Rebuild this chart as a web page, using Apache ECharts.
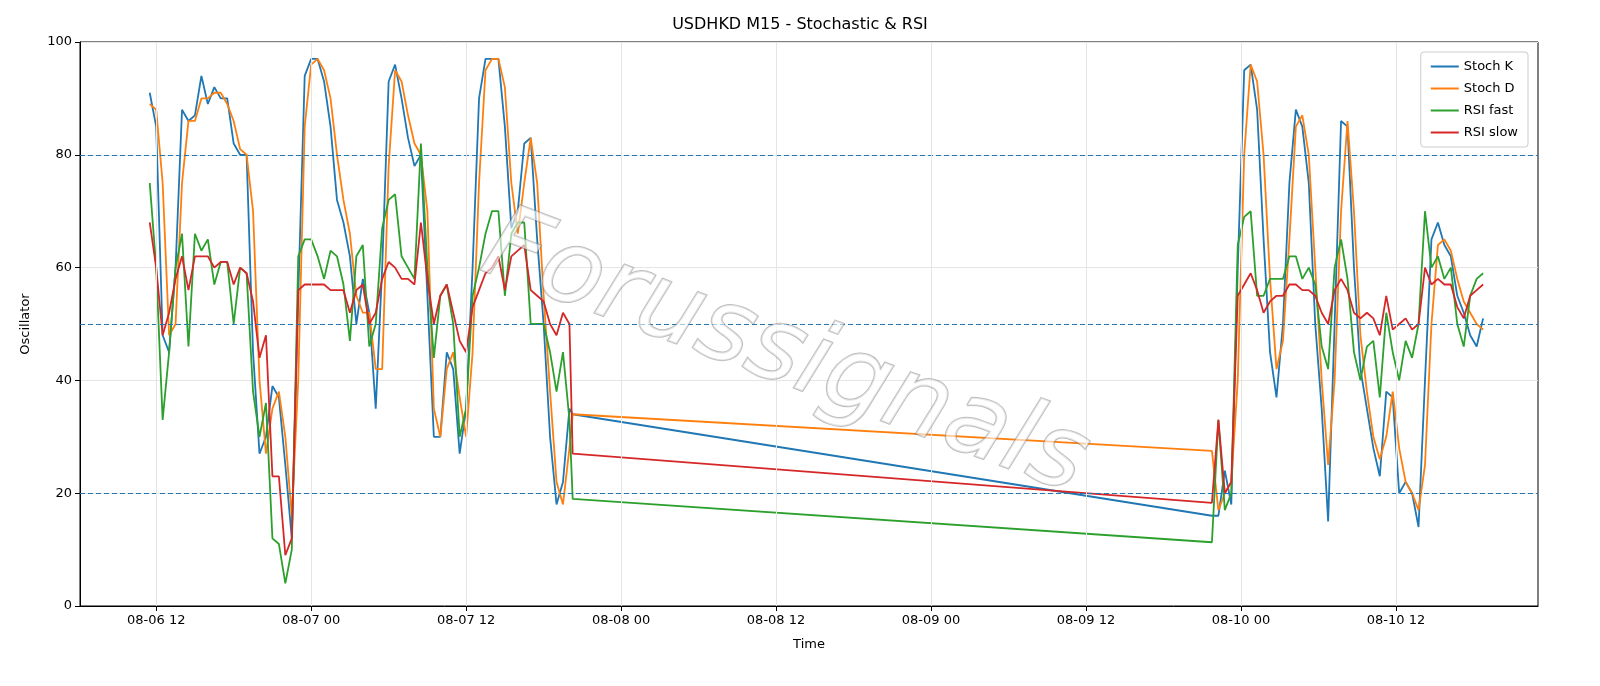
<!DOCTYPE html>
<html lang="en" style="height: 100%">
<head>
<meta charset="UTF-8">
<title>USDHKD M15</title>
<script src="https://cdn.jsdelivr.net/npm/echarts@6/dist/echarts.min.js"></script>
</head>
<body style="height: 100%; margin: 0; background: #fff; overflow: hidden">
<div id="container" style="width: 100%; height: 100%"></div>
<script>
// segment 1 starts 08-06 11:30, 30-min steps; final point 20:45
var seg1Start = '2024-08-06T11:30:00';
var seg2Start = '2024-08-09T21:45:00';
var tickLabels = ['2024-08-06T12:00:00', '2024-08-07T00:00:00', '2024-08-07T12:00:00', '2024-08-08T00:00:00',
    '2024-08-08T12:00:00', '2024-08-09T00:00:00', '2024-08-09T12:00:00', '2024-08-10T00:00:00', '2024-08-10T12:00:00'];
var k1 = [91,85,48,45,60,88,86,87,94,89,92,90,90,82,80,80,45,27,30,39,37,25,12,55,94,97,97,93,85,72,68,62,50,58,52,35,60,93,96,90,83,78,80,55,30,30,45,42,27,35,60,90,97,97,97,85,67,70,82,83,65,50,30,18,22,35,34];
var d1 = [89,88,75,48,50,75,86,86,90,90,91,91,89,86,81,80,70,40,27,35,38,30,16,40,85,96,97,95,90,80,72,66,55,52,52,42,42,78,95,93,87,82,80,70,35,30,42,45,37,30,45,75,95,97,97,92,75,66,75,83,75,55,38,22,18,28,34];
var f1 = [75,60,33,45,60,66,46,66,63,65,57,61,61,50,60,59,38,30,36,12,11,4,10,62,65,65,62,58,63,62,57,47,62,64,46,50,67,72,73,62,60,58,82,60,44,55,57,50,30,35,55,60,66,70,70,55,66,68,68,50,50,50,45,38,45,33,19];
var s1 = [68,60,48,52,58,62,56,62,62,62,60,61,61,57,60,59,54,44,48,23,23,9,12,56,57,57,57,57,56,56,56,52,56,57,50,52,58,61,60,58,58,57,68,58,50,55,57,52,47,45,53,56,59,60,62,56,62,63,64,56,55,54,50,48,52,50,27];
var k2 = [16,16,24,18,60,95,96,88,65,45,37,50,75,88,85,75,50,35,15,50,86,85,60,42,35,28,23,38,37,20,22,20,14,40,65,68,64,62,55,52,48,46,51];
var d2 = [27.5,17,20,22,40,80,96,93,80,58,42,47,65,85,87,80,60,40,25,40,70,86,70,48,38,30,26,30,38,28,22,20,17,25,50,64,65,63,58,54,52,50,49];
var f2 = [11.3,33,17,20,64,69,70,55,55,58,58,58,62,62,58,60,57,46,42,60,65,58,45,40,46,47,37,52,45,40,47,44,50,70,60,62,58,60,50,46,55,58,59];
var s2 = [18.3,33,20,22,55,57,59,56,52,54,55,55,57,57,56,56,55,52,50,56,58,56,52,51,52,51,48,55,49,50,51,49,50,60,57,58,57,57,53,51,55,56,57];

var HALF = 30 * 60 * 1000;
function times1(n) {
    var t0 = new Date(seg1Start).getTime();
    var out = [];
    for (var i = 0; i < n; i++) out.push(i === n - 1 ? t0 + (i - 1) * HALF + HALF / 2 : t0 + i * HALF);
    return out;
}
function times2(n) {
    var t0 = new Date(seg2Start).getTime();
    var out = [];
    for (var i = 0; i < n; i++) out.push(t0 + i * HALF);
    return out;
}
var t1 = times1(k1.length), t2 = times2(k2.length);
var tickVals = tickLabels.map(function (s) { return new Date(s).getTime(); });
function pairs(a, b) {
    return t1.map(function (t, i) { return [t, a[i]]; })
        .concat(t2.map(function (t, i) { return [t, b[i]]; }));
}
function pad(n) { return (n < 10 ? '0' : '') + n; }

var myChart = echarts.init(document.getElementById('container'));
var font = 'DejaVu Sans';
function line(name, color, a, b, marks) {
    var s = {
        name: name, type: 'line', showSymbol: false, data: pairs(a, b), z: 3,
        lineStyle: { color: color, width: 1.8 }, itemStyle: { color: color }
    };
    if (marks) {
        s.markLine = {
            silent: true, symbol: 'none', label: { show: false },
            lineStyle: { color: '#1f77b4', type: [5, 3], width: 1.2 },
            data: [{ yAxis: 20 }, { yAxis: 50 }, { yAxis: 80 }]
        };
    }
    return s;
}
var option = {
    animation: false,
    backgroundColor: '#fff',
    textStyle: { fontFamily: font },
    title: {
        text: 'USDHKD M15 - Stochastic & RSI', left: 'center', top: 12,
        textStyle: { fontFamily: font, fontSize: 16, fontWeight: 'normal', color: '#000' }
    },
    legend: {
        right: 72, top: 52, orient: 'vertical', itemWidth: 28, itemHeight: 2, itemGap: 9,
        icon: 'rect', borderColor: '#ccc', borderWidth: 1, borderRadius: 3, padding: [8, 10],
        backgroundColor: '#fff',
        data: ['Stoch K', 'Stoch D', 'RSI fast', 'RSI slow'],
        textStyle: { fontFamily: font, fontSize: 13, color: '#000' }
    },
    grid: { left: 80, right: 62, top: 42, bottom: 80, show: true, borderColor: '#000', borderWidth: 1 },
    graphic: [{
        type: 'text', left: 468, top: 195, rotation: -0.36, z: 100,
        style: {
            text: 'Forussignals', font: 'italic 102px "DejaVu Sans"',
            fill: 'rgba(255,255,255,0.6)', stroke: 'rgba(110,110,110,0.45)', lineWidth: 2,
            shadowColor: 'rgba(0,0,0,0.25)', shadowOffsetX: 4, shadowOffsetY: 4, shadowBlur: 2
        }
    }],
    xAxis: {
        type: 'value',
        min: new Date('2024-08-06T06:06:00').getTime(),
        max: new Date('2024-08-10T23:00:00').getTime(),
        name: 'Time', nameLocation: 'middle', nameGap: 32,
        nameTextStyle: { fontFamily: font, fontSize: 13, color: '#000' },
        axisLine: { lineStyle: { color: '#000' } },
        axisTick: { show: true, customValues: tickVals, lineStyle: { color: '#000' } },
        axisLabel: {
            color: '#000', fontSize: 13, fontFamily: font, customValues: tickVals,
            formatter: function (v) {
                var d = new Date(v);
                return pad(d.getMonth() + 1) + '-' + pad(d.getDate()) + ' ' + pad(d.getHours());
            }
        },
        splitLine: { show: false }
    },
    yAxis: {
        type: 'value', min: 0, max: 100, interval: 20,
        name: 'Oscillator', nameLocation: 'middle', nameGap: 48,
        nameTextStyle: { fontFamily: font, fontSize: 13, color: '#000' },
        axisLine: { show: true, lineStyle: { color: '#000' } },
        axisTick: { show: true, lineStyle: { color: '#000' } },
        axisLabel: { color: '#000', fontSize: 13, fontFamily: font },
        splitLine: { show: true, lineStyle: { color: '#e5e5e5' } }
    },
    series: [
        line('Stoch K', '#1f77b4', k1, k2, true),
        line('Stoch D', '#ff7f0e', d1, d2),
        line('RSI fast', '#2ca02c', f1, f2),
        line('RSI slow', '#d62728', s1, s2),
        {
            name: 'grid', type: 'line', data: [], z: 1,
            markLine: {
                silent: true, symbol: 'none', label: { show: false },
                lineStyle: { color: '#e5e5e5', type: 'solid', width: 1 },
                data: tickVals.map(function (t) { return { xAxis: t }; })
            }
        }
    ]
};
myChart.setOption(option);
</script>
</body>
</html>
